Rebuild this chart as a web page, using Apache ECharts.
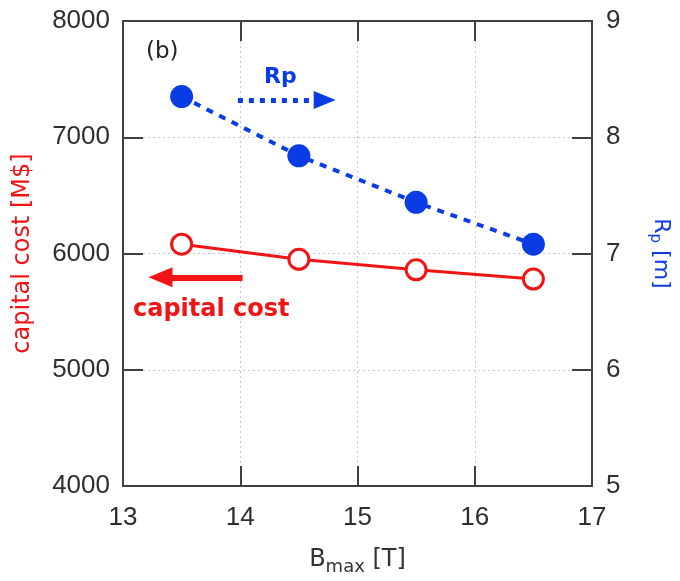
<!DOCTYPE html>
<html>
<head>
<meta charset="utf-8">
<script src="https://cdn.jsdelivr.net/npm/echarts@6/dist/echarts.min.js"></script>
<style>
  html, body { margin: 0; padding: 0; background: #fff; }
  #chart { width: 680px; height: 581px; }
</style>
</head>
<body>
<div id="chart"></div>
<script>
// Maximum field on coil B_max [T]
const bmax = [13.5, 14.5, 15.5, 16.5];
// Capital cost [M$] (left axis)
const capitalCost = [6080, 5950, 5860, 5780];
// Major radius Rp [m] (right axis)
const rp = [8.35, 7.84, 7.44, 7.08];

// Axis ranges and tick spacing
const xRange = [13, 17, 1];
const costRange = [4000, 8000, 1000];
const rpRange = [5, 9, 1];

// Annotation arrows, in data coordinates
const rpArrow = [[13.98, 8.32], [14.72, 8.32]];
const costArrow = [[14.02, 5795], [13.32, 5795]];

const RED = '#f01414';
const BLUE = '#0a3ce6';
const AXIS = '#404040';
const FONT = '"DejaVu Sans", Arial, sans-serif';
const TICK_FONT = '"Liberation Sans", Arial, sans-serif';

const chart = echarts.init(document.getElementById('chart'), null, { renderer: 'canvas' });

const tickLabel = { color: '#2e2e2e', fontSize: 26, fontFamily: TICK_FONT, formatter: v => String(v) };
const grid = { type: [2, 3], color: '#c4c4ee', width: 1 };

chart.setOption({
  animation: false,
  backgroundColor: '#fff',
  grid: { left: 123, top: 21, right: 88, bottom: 91 },
  xAxis: [
    {
      type: 'value', min: xRange[0], max: xRange[1], interval: xRange[2],
      position: 'bottom',
      name: '{b|B}{s|max}{b| [T]}',
      nameLocation: 'middle', nameGap: 58,
      nameTextStyle: {
        rich: {
          b: { fontSize: 24, color: '#333', fontFamily: FONT },
          s: { fontSize: 18, color: '#333', fontFamily: FONT, padding: [14, 0, 0, 0] }
        }
      },
      axisLine: { lineStyle: { color: AXIS, width: 2 } },
      axisTick: { inside: true, length: 20, lineStyle: { color: AXIS, width: 2 } },
      axisLabel: Object.assign({ margin: 19 }, tickLabel),
      splitLine: { show: true, lineStyle: grid }
    },
    {
      type: 'value', min: xRange[0], max: xRange[1], interval: xRange[2],
      position: 'top',
      axisLine: { show: true, lineStyle: { color: AXIS, width: 2 } },
      axisTick: { show: true, inside: true, length: 20, lineStyle: { color: AXIS, width: 2 } },
      axisLabel: { show: false },
      splitLine: { show: false }
    }
  ],
  yAxis: [
    {
      type: 'value', min: costRange[0], max: costRange[1], interval: costRange[2],
      position: 'left',
      name: 'capital cost [M$]',
      nameLocation: 'middle', nameGap: 88, nameRotate: 90,
      nameTextStyle: { color: RED, fontSize: 24, fontFamily: FONT },
      axisLine: { show: true, lineStyle: { color: AXIS, width: 2 } },
      axisTick: { show: true, inside: true, length: 20, lineStyle: { color: AXIS, width: 2 } },
      axisLabel: Object.assign({ margin: 13 }, tickLabel),
      splitLine: { show: true, lineStyle: grid }
    },
    {
      type: 'value', min: rpRange[0], max: rpRange[1], interval: rpRange[2],
      position: 'right',
      name: '{r|R}{s|p}{r| [m]}',
      nameLocation: 'middle', nameGap: 55, nameRotate: -90,
      nameTextStyle: {
        rich: {
          r: { fontSize: 22, color: BLUE, fontFamily: FONT },
          s: { fontSize: 15, color: BLUE, fontFamily: FONT, padding: [13, 0, 0, 0] }
        }
      },
      axisLine: { show: true, lineStyle: { color: AXIS, width: 2 } },
      axisTick: { show: true, inside: true, length: 20, lineStyle: { color: AXIS, width: 2 } },
      axisLabel: Object.assign({ margin: 14 }, tickLabel),
      splitLine: { show: false }
    }
  ],
  series: [
    {
      name: 'capital cost',
      type: 'line',
      xAxisIndex: 0, yAxisIndex: 0,
      data: bmax.map((b, i) => [b, capitalCost[i]]),
      symbol: 'circle', symbolSize: 20,
      itemStyle: { color: '#fff', borderColor: RED, borderWidth: 3 },
      lineStyle: { color: RED, width: 3 },
      z: 3,
      markLine: {
        silent: true,
        symbol: ['none', 'triangle'],
        symbolSize: [20, 24],
        label: { show: false },
        lineStyle: { color: RED, width: 6, type: 'solid' },
        data: [[{ coord: costArrow[0] }, { coord: costArrow[1] }]]
      }
    },
    {
      name: 'Rp',
      type: 'line',
      xAxisIndex: 0, yAxisIndex: 1,
      data: bmax.map((b, i) => [b, rp[i]]),
      symbol: 'circle', symbolSize: 23,
      itemStyle: { color: BLUE },
      lineStyle: { color: BLUE, width: 4, type: [7, 7] },
      z: 2,
      markLine: {
        silent: true,
        symbol: ['none', 'triangle'],
        symbolSize: [18, 22],
        label: { show: false },
        lineStyle: { color: BLUE, width: 5, type: [5, 6] },
        data: [[{ coord: rpArrow[0] }, { coord: rpArrow[1] }]]
      }
    }
  ],
  graphic: [
    { type: 'text', left: 146, top: 41, style: { text: '(b)', fontSize: 23, fill: '#222', fontFamily: FONT } },
    { type: 'text', left: 264, top: 66, style: { text: 'Rp', fontSize: 22, fontWeight: 'bold', fill: BLUE, fontFamily: FONT } },
    { type: 'text', left: 133, top: 298, style: { text: 'capital cost', fontSize: 24, fontWeight: 'bold', fill: RED, fontFamily: FONT } }
  ]
});
</script>
</body>
</html>
